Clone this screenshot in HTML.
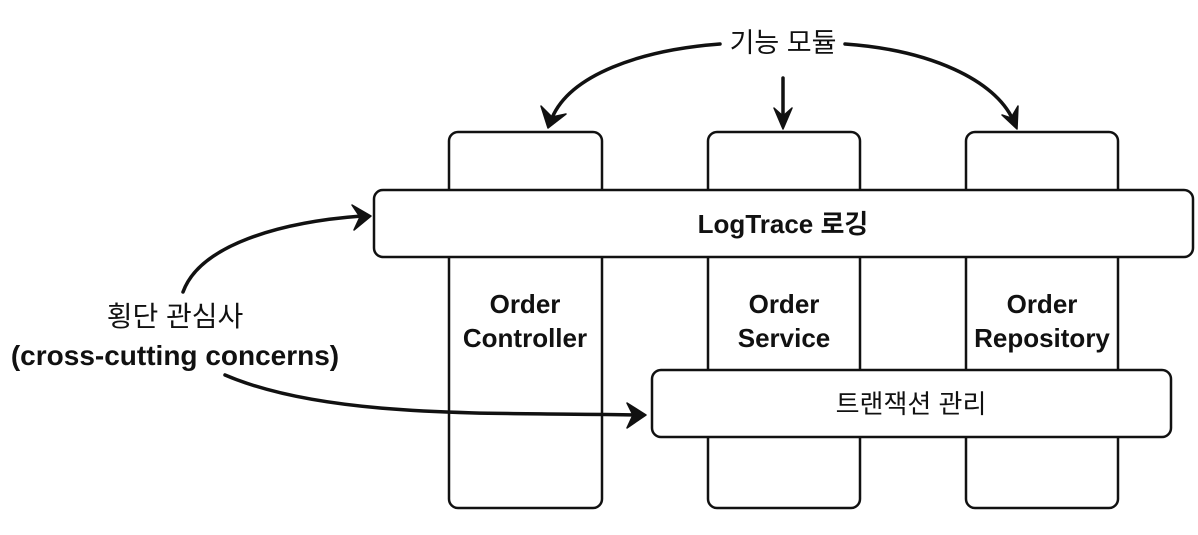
<!DOCTYPE html>
<html><head><meta charset="utf-8"><style>
body{margin:0;background:#fff;width:1198px;height:530px;overflow:hidden}
text{font-family:"Liberation Sans","Noto Sans CJK KR",sans-serif;fill:#111}
</style></head><body>
<svg width="1198" height="530" viewBox="0 0 1198 530" xmlns="http://www.w3.org/2000/svg">
<g fill="#fff" stroke="#111" stroke-width="2.5">
<rect x="449" y="132" width="153" height="376" rx="9"/>
<rect x="708" y="132" width="152" height="376" rx="9"/>
<rect x="966" y="132" width="152" height="376" rx="9"/>
<rect x="374" y="190" width="819" height="67" rx="9"/>
<rect x="652" y="370" width="519" height="67" rx="9"/>
</g>
<g stroke="#111" stroke-width="3.5" fill="none" stroke-linecap="round">
<path d="M720 44 C640 50 570 75 552 118"/>
<path d="M783 78 L783 120"/>
<path d="M845 44 C930 50 995 80 1013 120"/>
<path d="M183 292 C200 245 280 222 362 216"/>
<path d="M225 375 C330 420 500 412 636 415"/>
</g>
<g fill="#111" stroke="#111" stroke-width="1.5" stroke-linejoin="round">
<path d="M541 106 L548 128 L566 114 L552 117 Z"/>
<path d="M774 108 L783 129 L792 108 L783 116 Z"/>
<path d="M1002 115 L1017 129 L1018 106 L1011 118 Z"/>
<path d="M352 205 L371 216 L354 230 L360 217 Z"/>
<path d="M627 403 L646 415 L627 428 L633 415 Z"/>
</g>
<g font-size="26" text-anchor="middle" font-weight="bold">
<text x="783" y="52" font-size="27" font-weight="normal">기능 모듈</text>
<text x="783" y="233" font-size="26">LogTrace 로깅</text>
<text x="525" y="313">Order</text><text x="525" y="347">Controller</text>
<text x="784" y="313">Order</text><text x="784" y="347">Service</text>
<text x="1042" y="313">Order</text><text x="1042" y="347">Repository</text>
<text x="911" y="413" font-weight="normal" font-size="26">트랜잭션 관리</text>
<text x="175" y="326" font-size="28" font-weight="normal">횡단 관심사</text>
<text x="175" y="365" font-size="28">(cross-cutting concerns)</text>
</g>
</svg>
</body></html>
